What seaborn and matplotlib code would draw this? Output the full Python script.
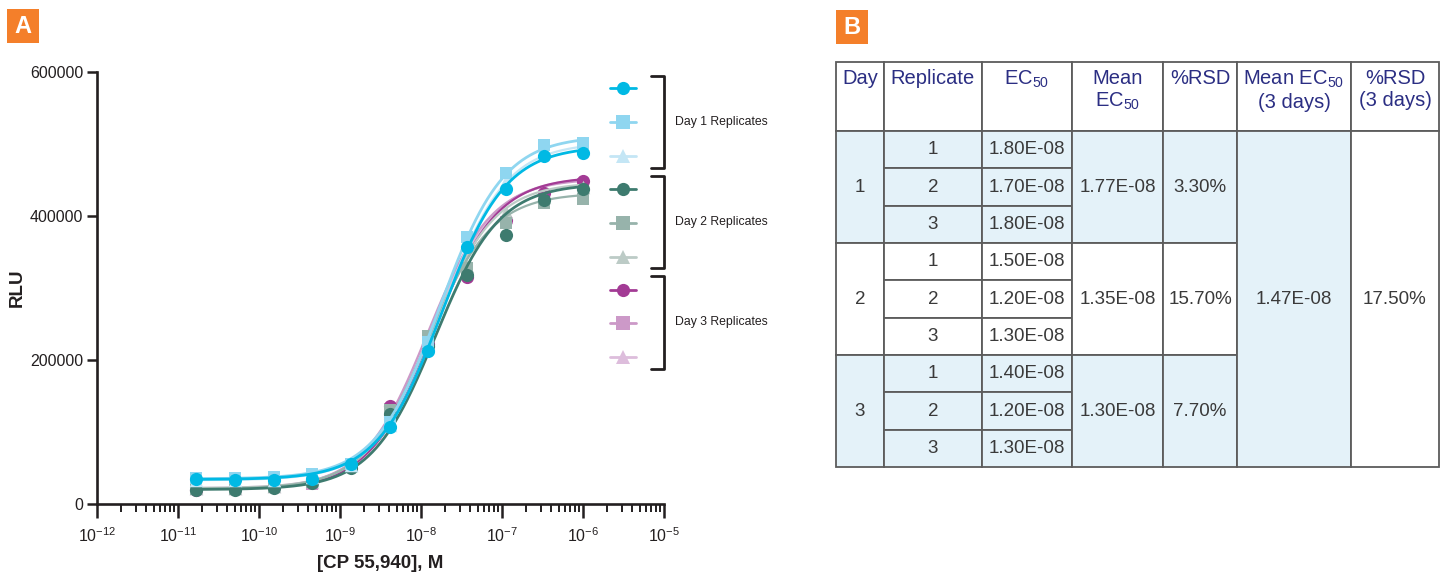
import numpy as np
import pandas as pd
import matplotlib
matplotlib.use("Agg")
import matplotlib.pyplot as plt
import seaborn as sns
from matplotlib.lines import Line2D
from matplotlib.patches import Rectangle
from matplotlib.ticker import LogLocator, FixedLocator, NullFormatter

# ---- dose-response data (panel A) ----
conc = [1.69e-11, 5.08e-11, 1.52e-10, 4.57e-10, 1.37e-9, 4.12e-9,
        1.23e-8, 3.70e-8, 1.11e-7, 3.33e-7, 1.0e-6]

rlu_d1r1 = [34500, 34000, 34000, 35000, 55000, 107000, 212000, 357000, 437000, 483000, 487000]
rlu_d1r2 = [36000, 35500, 37000, 42000, 56000, 114000, 225000, 371000, 460000, 498000, 501000]
rlu_d1r3 = [33000, 33000, 34000, 37000, 54000, 110000, 218000, 362000, 448000, 490000, 494000]
rlu_d2r1 = [19000, 20000, 22000, 29000, 50000, 125000, 220000, 318000, 373000, 422000, 437000]
rlu_d2r2 = [21000, 21500, 24000, 31000, 53000, 130000, 234000, 328000, 390000, 418000, 424000]
rlu_d2r3 = [22000, 22500, 25000, 33000, 54000, 128000, 228000, 330000, 405000, 427000, 440000]
rlu_d3r1 = [20000, 21000, 23000, 30000, 55000, 136000, 222000, 315000, 395000, 432000, 449000]
rlu_d3r2 = [21000, 22000, 24000, 28000, 54000, 132000, 226000, 322000, 392000, 428000, 444000]
rlu_d3r3 = [22000, 22000, 25000, 31000, 55000, 130000, 224000, 325000, 398000, 430000, 446000]

series = [rlu_d1r1, rlu_d1r2, rlu_d1r3, rlu_d2r1, rlu_d2r2, rlu_d2r3, rlu_d3r1, rlu_d3r2, rlu_d3r3]
series_colors = ["#00b9e4", "#8fd6f0", "#c4e6f5",
                 "#3e7b6f", "#97b3ab", "#bccbc6",
                 "#a33b95", "#cc99c8", "#ddbddc"]
series_markers = ["o", "s", "^"] * 3

# 4PL fit parameters (EC50 from the table)
ec50 = [1.80e-8, 1.70e-8, 1.80e-8, 1.50e-8, 1.20e-8, 1.30e-8, 1.40e-8, 1.20e-8, 1.30e-8]
fit_bottom = [34000, 35000, 33000, 20000, 21000, 22000, 21000, 21000, 22000]
fit_top = [497000, 511000, 502000, 445000, 432000, 447000, 455000, 452000, 454000]
fit_hill = [1.1] * 9

y_ticks = [0, 200000, 400000, 600000]
day_labels = ["Day 1 Replicates", "Day 2 Replicates", "Day 3 Replicates"]

# ---- table data (panel B) ----
headers = ["Day", "Replicate", "EC$_{50}$", "Mean\nEC$_{50}$", "%RSD",
           "Mean EC$_{50}$\n(3 days)", "%RSD\n(3 days)"]
table_day = ["1", "2", "3"]
table_rep = ["1", "2", "3"] * 3
table_ec50 = ["1.80E-08", "1.70E-08", "1.80E-08", "1.50E-08", "1.20E-08",
              "1.30E-08", "1.40E-08", "1.20E-08", "1.30E-08"]
table_mean = ["1.77E-08", "1.35E-08", "1.30E-08"]
table_rsd = ["3.30%", "15.70%", "7.70%"]
table_mean_all = "1.47E-08"
table_rsd_all = "17.50%"

sns.set_theme(style="ticks")
plt.rcParams["font.family"] = ["Liberation Sans", "DejaVu Sans"]
plt.rcParams["mathtext.fontset"] = "custom"
plt.rcParams["mathtext.rm"] = "Liberation Sans"
plt.rcParams["mathtext.it"] = "Liberation Sans"

W, H = 1440, 575
fig = plt.figure(figsize=(W / 100, H / 100), dpi=100)


def fx(px):
    return px / W


def fy(py):
    return 1 - py / H


ax = fig.add_axes([fx(97), fy(504), fx(664) - fx(97), fy(72) - fy(504)])
ax.set_xscale("log")

xs = np.logspace(np.log10(conc[0]), np.log10(conc[-1]), 300)
for i in range(len(series)):
    z = 20 - i
    curve = fit_bottom[i] + (fit_top[i] - fit_bottom[i]) / (1 + (ec50[i] / xs) ** fit_hill[i])
    lw = 2.0 if i in (0, 1, 3) else 1.6
    sns.lineplot(x=xs, y=curve, color=series_colors[i], lw=lw, ax=ax, zorder=z)
    sz = 90 if series_markers[i] == "o" else (75 if series_markers[i] == "s" else 95)
    sns.scatterplot(x=conc, y=series[i], marker=series_markers[i], color=series_colors[i],
                    s=sz, linewidth=0, ax=ax, zorder=z, clip_on=False)

ax.set_xlim(1e-12, 1e-5)
ax.set_ylim(0, 600000)
ax.xaxis.set_major_locator(LogLocator(base=10, numticks=20))
ax.xaxis.set_minor_locator(LogLocator(base=10, subs=np.arange(2, 10), numticks=20))
ax.xaxis.set_minor_formatter(NullFormatter())
ax.yaxis.set_major_locator(FixedLocator(y_ticks))
ax.set_yticklabels([str(v) for v in y_ticks])
sns.despine(ax=ax)
for side in ("left", "bottom"):
    ax.spines[side].set_linewidth(1.9)
    ax.spines[side].set_color("#231f20")
ax.tick_params(axis="x", which="major", length=10, width=1.8, direction="out",
               labelsize=11.5, pad=6, color="#231f20", labelcolor="#231f20")
ax.tick_params(axis="x", which="minor", length=6, width=1.4, direction="out", color="#231f20")
ax.tick_params(axis="y", which="major", length=7, width=1.8, direction="out",
               labelsize=11.5, pad=3, color="#231f20", labelcolor="#231f20")
ax.set_xlabel("[CP 55,940], M", fontsize=13.5, fontweight="bold", labelpad=7, color="#231f20")
ax.set_ylabel("RLU", fontsize=13.5, fontweight="bold", labelpad=3, color="#231f20")
ax.grid(False)

# legend keys and day brackets
key_y = [88, 122, 156, 189, 223, 257, 290, 323, 357]
for i, yk in enumerate(key_y):
    fig.add_artist(Line2D([fx(610), fx(623), fx(636)], [fy(yk)] * 3, transform=fig.transFigure,
                          color=series_colors[i], lw=2.0, marker=series_markers[i],
                          markevery=[1], markersize=9.5, markeredgewidth=0))
brackets = [(76, 168), (176, 268), (276, 369)]
for (t, b), lab in zip(brackets, day_labels):
    fig.add_artist(Line2D([fx(651), fx(664), fx(664), fx(651)], [fy(t), fy(t), fy(b), fy(b)],
                          transform=fig.transFigure, color="#231f20", lw=2.0))
    fig.text(fx(675), fy((t + b) / 2), lab, fontsize=8.8, color="#231f20", va="center", ha="left")

# ---- panel B: table drawn in pixel units ----
tx = fig.add_axes([0, 0, 1, 1], facecolor="none")
tx.set_xlim(0, W)
tx.set_ylim(H, 0)
tx.axis("off")

col_w = [48, 98, 90, 91, 74, 114, 88]
col_x = list(np.cumsum([836] + col_w))
head_top, head_h = 62, 69
row_h = (467 - 131) / 9
row_y = [head_top + head_h + k * row_h for k in range(10)]
blue = "#e4f2f9"
edge = "#5c5c5c"
navy = "#2b2e83"
body = "#3a3a3a"
narrow = ["Liberation Sans Narrow", "Liberation Sans", "DejaVu Sans"]


def cell(c0, c1, r0, r1, fill, txt=None, color=body, size=13.5):
    x0, x1 = col_x[c0], col_x[c1]
    y0, y1 = r0, r1
    tx.add_patch(Rectangle((x0, y0), x1 - x0, y1 - y0, facecolor=fill, edgecolor=edge, lw=1.3))
    if txt is not None:
        tx.text((x0 + x1) / 2, (y0 + y1) / 2, txt, ha="center", va="center",
                color=color, fontsize=size, family=narrow)


for c, htxt in enumerate(headers):
    cell(c, c + 1, head_top, row_y[0], "white")
    tx.text((col_x[c] + col_x[c + 1]) / 2, head_top + 7, htxt, ha="center", va="top",
            color=navy, fontsize=14.5, family=narrow, linespacing=1.2)

for d in range(3):
    fill = blue if d != 1 else "white"
    r0, r1 = row_y[3 * d], row_y[3 * d + 3]
    cell(0, 1, r0, r1, fill, table_day[d])
    for k in range(3):
        idx = 3 * d + k
        cell(1, 2, row_y[idx], row_y[idx + 1], fill, table_rep[idx])
        cell(2, 3, row_y[idx], row_y[idx + 1], fill, table_ec50[idx])
    cell(3, 4, r0, r1, fill, table_mean[d])
    cell(4, 5, r0, r1, fill, table_rsd[d])
cell(5, 6, row_y[0], row_y[9], blue, table_mean_all)
cell(6, 7, row_y[0], row_y[9], "white", table_rsd_all)

# panel letters
for (px, py, letter) in [(7, 9, "A"), (836, 10, "B")]:
    tx.add_patch(Rectangle((px, py), 32, 34, facecolor="#f47f2a", edgecolor="none"))
    tx.text(px + 16, py + 17.5, letter, ha="center", va="center", color="white",
            fontsize=17, fontweight="bold")

fig.savefig("out.png", dpi=100)
